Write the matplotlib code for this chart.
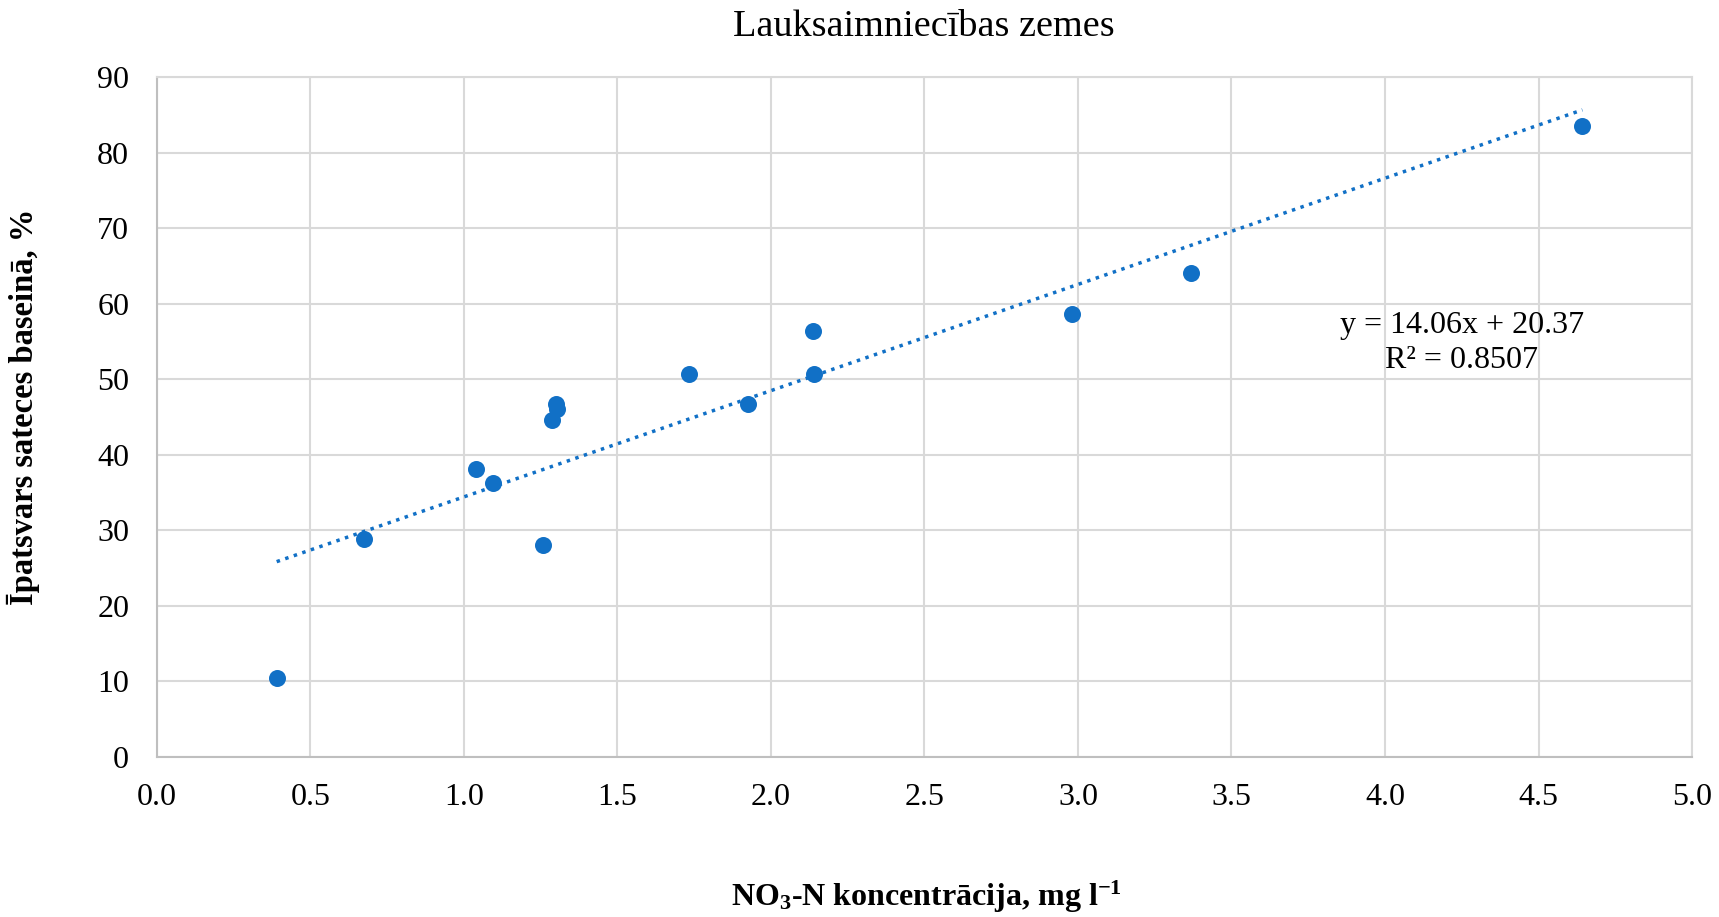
import matplotlib
matplotlib.use("Agg")
import matplotlib.pyplot as plt
import numpy as np

plt.rcParams['font.family'] = ['Liberation Serif', 'DejaVu Serif']
plt.rcParams['mathtext.fontset'] = 'custom'
plt.rcParams['mathtext.rm'] = 'Liberation Serif'
plt.rcParams['mathtext.bf'] = 'Liberation Serif:bold'
plt.rcParams['mathtext.default'] = 'bf'

# NO3-N koncentrācija (mg/l) un lauksaimniecības zemju īpatsvars (%)
no3_n = [0.39, 0.675, 1.04, 1.095, 1.257, 1.286, 1.30, 1.304,
         1.732, 1.925, 2.136, 2.139, 2.982, 3.368, 4.643]
ipatsvars = [10.5, 28.9, 38.1, 36.2, 28.1, 44.6, 46.7, 46.1,
             50.7, 46.7, 56.4, 50.7, 58.7, 64.0, 83.5]

# lineārā trenda koeficienti
slope = 14.06
intercept = 20.37
r2 = 0.8507

x_ticks = np.arange(0, 5.01, 0.5)
y_ticks = np.arange(0, 91, 10)

blue = '#1170C6'
grid = '#D9D9D9'

fig = plt.figure(figsize=(17.19, 9.17), dpi=100)
ax = fig.add_axes([0.0913, 0.1745, 0.8930, 0.7415])

ax.set_xlim(0, 5)
ax.set_ylim(0, 90)
ax.set_xticks(x_ticks)
ax.set_xticklabels([f'{v:.1f}' for v in x_ticks])
ax.set_yticks(y_ticks)
ax.grid(True, color=grid, linewidth=1.5)
ax.set_axisbelow(True)
for sp in ax.spines.values():
    sp.set_color(grid)
    sp.set_linewidth(1.5)
ax.spines['left'].set_color('#BFBFBF')
ax.spines['bottom'].set_color('#BFBFBF')
ax.tick_params(length=0, labelsize=23)
ax.tick_params(axis='x', pad=19)
ax.tick_params(axis='y', pad=20)

# trenda līnija
xt = np.array([min(no3_n), max(no3_n)])
ax.plot(xt, slope * xt + intercept, linestyle=(0, (1, 1.6)), color=blue,
        linewidth=2.5, zorder=2)

ax.scatter(no3_n, ipatsvars, s=150, color=blue, zorder=3, linewidths=0)

ax.text(4.25, 54.8, f'y = {slope:.2f}x + {intercept:.2f}\nR² = {r2:.4f}',
        ha='center', va='center', multialignment='center',
        fontsize=23, linespacing=1.3)

fig.text(0.5375, 0.9706, 'Lauksaimniecības zemes', ha='center', va='center',
         fontsize=27.5)
fig.text(0.5387, 0.022, r'NO$_3$-N koncentrācija, mg l$^{-1}$', ha='center',
         va='center', fontsize=23, fontweight='bold')
fig.text(0.0135, 0.556, 'Īpatsvars sateces baseinā, %', ha='center',
         va='center', rotation=90, fontsize=23.5, fontweight='bold')

fig.savefig('out.png', dpi=100, facecolor='white')
